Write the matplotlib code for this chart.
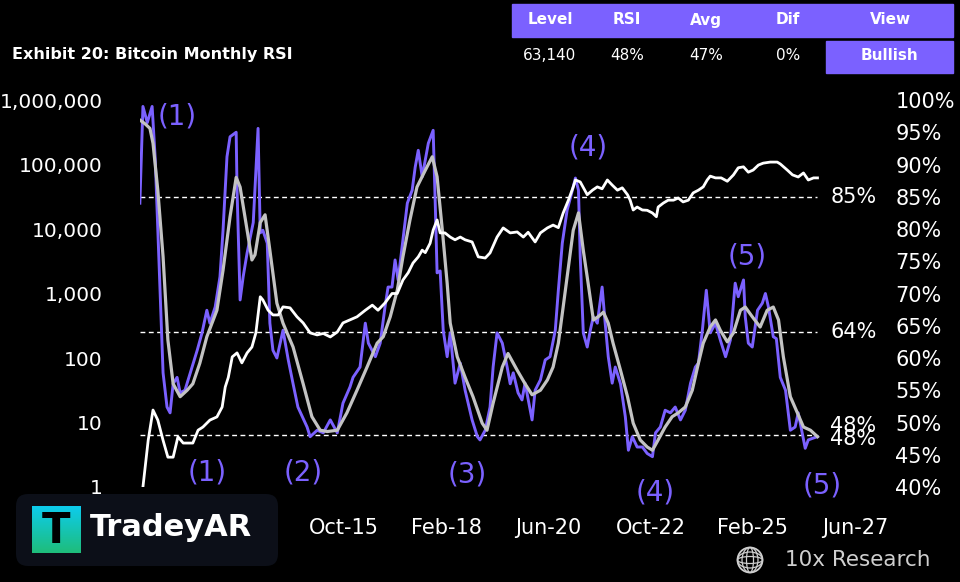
import numpy as np
import matplotlib.pyplot as plt
from matplotlib.patches import Rectangle, FancyBboxPatch, Circle, Ellipse

# x values are decimal years
rsi_t = [2011.08, 2011.15, 2011.25, 2011.36, 2011.43, 2011.54, 2011.61, 2011.70, 2011.77, 2011.84,
         2011.93, 2012.00, 2012.11, 2012.39, 2012.50, 2012.61, 2012.68, 2012.80, 2012.91, 2012.98,
         2013.07, 2013.14, 2013.28, 2013.30, 2013.37, 2013.44, 2013.53, 2013.67, 2013.78, 2013.83,
         2013.89, 2013.99, 2014.05, 2014.12, 2014.21, 2014.35, 2014.47, 2014.58, 2014.69, 2014.90,
         2014.97, 2015.13, 2015.27, 2015.43, 2015.59, 2015.72, 2015.88, 2015.95, 2016.11, 2016.23,
         2016.30, 2016.46, 2016.57, 2016.68, 2016.75, 2016.84, 2016.91, 2016.98, 2017.09, 2017.19,
         2017.30, 2017.37, 2017.44, 2017.53, 2017.67, 2017.78, 2017.83, 2017.87, 2017.94, 2018.01,
         2018.10, 2018.17, 2018.28, 2018.40, 2018.51, 2018.67, 2018.79, 2018.85, 2018.97, 2019.08,
         2019.15, 2019.24, 2019.36, 2019.47, 2019.54, 2019.61, 2019.72, 2019.81, 2019.88, 2020.04,
         2020.11, 2020.23, 2020.34, 2020.45, 2020.57, 2020.64, 2020.73, 2020.84, 2020.96, 2021.03,
         2021.10, 2021.14, 2021.21, 2021.30, 2021.37, 2021.44, 2021.53, 2021.64, 2021.71, 2021.78,
         2021.87, 2021.94, 2022.06, 2022.17, 2022.24, 2022.33, 2022.44, 2022.56, 2022.67, 2022.79,
         2022.86, 2022.97, 2023.08, 2023.20, 2023.31, 2023.43, 2023.54, 2023.66, 2023.77, 2023.84,
         2023.93, 2024.02, 2024.11, 2024.23, 2024.34, 2024.46, 2024.57, 2024.68, 2024.75, 2024.87,
         2024.91, 2024.98, 2025.07, 2025.19, 2025.30, 2025.37, 2025.44, 2025.55, 2025.62, 2025.71,
         2025.83, 2025.94, 2026.05, 2026.12, 2026.21, 2026.28, 2026.35, 2026.47, 2026.56]
rsi = [84.0, 99.0, 96.5, 99.0, 91.0, 70.5, 57.7, 52.4, 51.5, 56.0,
       57.0, 54.6, 55.0, 61.2, 63.9, 67.4, 65.4, 67.9, 72.6, 79.8,
       91.2, 94.3, 95.0, 86.0, 69.0, 72.6, 76.3, 81.0, 95.6, 79.4,
       79.8, 77.8, 65.4, 61.2, 60.0, 64.3, 59.7, 56.0, 52.4, 49.3,
       47.8, 48.8, 48.4, 50.4, 48.4, 53.0, 55.5, 57.0, 58.6, 65.4,
       62.3, 60.2, 62.3, 67.9, 71.0, 71.0, 75.2, 72.1, 78.3, 84.0,
       86.0, 89.6, 92.2, 88.1, 93.3, 95.3, 83.4, 73.2, 73.5, 64.3,
       60.2, 63.9, 56.1, 59.2, 55.0, 50.4, 47.8, 47.3, 48.8, 52.4,
       58.6, 63.9, 62.3, 58.6, 56.0, 57.7, 54.6, 53.5, 56.1, 50.4,
       55.0, 56.6, 59.7, 60.2, 64.3, 70.5, 77.8, 82.9, 86.0, 87.9,
       86.0, 75.7, 63.9, 61.7, 64.3, 66.4, 65.4, 71.0, 65.4, 60.2,
       56.1, 58.6, 56.0, 50.9, 45.7, 47.8, 46.2, 46.2, 45.2, 44.7,
       48.4, 49.3, 51.9, 51.5, 52.4, 50.4, 51.9, 56.1, 58.6, 59.2,
       64.3, 70.5, 63.9, 65.4, 62.8, 60.2, 62.8, 71.6, 69.5, 72.1,
       66.4, 62.3, 61.7, 67.4, 68.5, 70.0, 67.9, 63.3, 63.0, 57.0,
       55.0, 48.8, 49.3, 51.5, 48.4, 46.0, 47.3, 47.6, 47.8]

avg_t = [2011.08, 2011.20, 2011.31, 2011.38, 2011.49, 2011.61, 2011.72, 2011.84, 2012.00, 2012.16,
         2012.29, 2012.45, 2012.61, 2012.84, 2012.98, 2013.14, 2013.28, 2013.37, 2013.48, 2013.64,
         2013.71, 2013.83, 2013.94, 2014.05, 2014.21, 2014.35, 2014.58, 2014.81, 2015.01, 2015.20,
         2015.36, 2015.59, 2015.81, 2016.04, 2016.27, 2016.50, 2016.64, 2016.80, 2016.96, 2017.09,
         2017.25, 2017.41, 2017.60, 2017.76, 2017.87, 2017.99, 2018.10, 2018.17, 2018.33, 2018.51,
         2018.69, 2018.90, 2019.01, 2019.15, 2019.36, 2019.49, 2019.70, 2019.88, 2020.04, 2020.23,
         2020.39, 2020.52, 2020.64, 2020.75, 2020.87, 2020.98, 2021.10, 2021.21, 2021.32, 2021.44,
         2021.55, 2021.67, 2021.78, 2021.89, 2022.06, 2022.22, 2022.35, 2022.51, 2022.67, 2022.79,
         2022.92, 2023.08, 2023.24, 2023.38, 2023.54, 2023.70, 2023.84, 2023.95, 2024.11, 2024.23,
         2024.34, 2024.50, 2024.64, 2024.80, 2024.91, 2025.07, 2025.25, 2025.41, 2025.55, 2025.67,
         2025.78, 2025.94, 2026.10, 2026.24, 2026.40, 2026.56]
avg = [96.9, 96.3, 95.6, 93.3, 86.0, 75.7, 62.8, 56.0, 54.0, 55.0,
       56.0, 59.2, 63.3, 67.4, 73.6, 81.9, 88.0, 86.5, 81.9, 75.2,
       76.0, 81.0, 82.2, 76.7, 68.5, 65.4, 61.7, 56.0, 50.9, 48.8,
       48.6, 48.8, 51.5, 55.0, 58.6, 62.3, 63.3, 66.4, 70.5, 75.7,
       81.4, 86.5, 89.1, 91.2, 88.1, 79.8, 71.6, 65.4, 60.2, 57.0,
       54.0, 49.9, 48.8, 53.0, 58.6, 60.7, 58.1, 56.0, 54.3, 55.0,
       56.6, 58.6, 62.3, 67.9, 74.1, 79.8, 82.5, 76.7, 71.6, 65.9,
       66.4, 67.1, 65.4, 62.3, 58.1, 54.0, 49.9, 47.3, 46.2, 45.7,
       47.3, 49.3, 50.9, 51.5, 52.4, 55.0, 59.2, 62.3, 64.8, 65.9,
       64.3, 62.5, 63.9, 67.4, 67.9, 66.4, 64.8, 67.4, 67.9, 65.9,
       60.2, 54.0, 51.5, 49.3, 48.8, 47.8]

px_t = [2011.15, 2011.27, 2011.38, 2011.49, 2011.61, 2011.72, 2011.84, 2011.95, 2012.07, 2012.29,
        2012.41, 2012.52, 2012.68, 2012.84, 2012.96, 2013.03, 2013.10, 2013.19, 2013.30, 2013.41,
        2013.53, 2013.64, 2013.73, 2013.83, 2013.89, 2014.01, 2014.12, 2014.24, 2014.35, 2014.51,
        2014.67, 2014.81, 2014.97, 2015.13, 2015.27, 2015.43, 2015.59, 2015.72, 2015.88, 2016.04,
        2016.23, 2016.39, 2016.52, 2016.68, 2016.84, 2016.96, 2017.09, 2017.21, 2017.32, 2017.44,
        2017.53, 2017.60, 2017.71, 2017.78, 2017.87, 2017.94, 2018.05, 2018.17, 2018.28, 2018.40,
        2018.51, 2018.67, 2018.81, 2018.97, 2019.08, 2019.24, 2019.38, 2019.54, 2019.70, 2019.84,
        2019.95, 2020.11, 2020.23, 2020.39, 2020.52, 2020.64, 2020.75, 2020.87, 2020.98, 2021.03,
        2021.14, 2021.30, 2021.42, 2021.53, 2021.64, 2021.76, 2021.87, 2021.99, 2022.10, 2022.22,
        2022.28, 2022.35, 2022.44, 2022.56, 2022.67, 2022.79, 2022.88, 2022.92, 2023.04, 2023.15,
        2023.27, 2023.38, 2023.49, 2023.61, 2023.72, 2023.84, 2023.95, 2024.04, 2024.11, 2024.23,
        2024.36, 2024.50, 2024.64, 2024.75, 2024.87, 2024.98, 2025.09, 2025.21, 2025.32, 2025.48,
        2025.64, 2025.71, 2025.87, 2025.99, 2026.12, 2026.24, 2026.35, 2026.47, 2026.56]
px = [1.0, 5.3, 15.6, 10.9, 5.3, 2.9, 2.9, 6.0, 4.8, 4.8,
      7.6, 8.5, 10.9, 12.2, 17.4, 35.5, 50, 104, 120, 84,
      120, 148, 245, 890, 795, 550, 465, 465, 620, 600,
      435, 350, 245, 228, 240, 212, 253, 350, 390, 435,
      550, 660, 550, 715, 1000, 1000, 1620, 2100, 2970, 3700,
      4700, 4300, 6000, 9600, 13800, 8700, 8700, 7500, 6800, 7500,
      6800, 6300, 3700, 3550, 4260, 7500, 10400, 8700, 9000, 7500,
      8900, 6300, 8700, 10400, 11500, 10500, 17700, 28000, 45000, 57500,
      53700, 34000, 40000, 45000, 42000, 57500, 48000, 40000, 43500, 34000,
      28000, 19700, 21900, 19700, 19500, 17700, 15500, 21900, 25300, 28000,
      28000, 30200, 26300, 28000, 36300, 40000, 45000, 57500, 66000, 62000,
      62000, 55000, 69000, 89000, 92000, 76000, 82000, 98000, 105000, 109000,
      109000, 102000, 82000, 69000, 64000, 74000, 57500, 62000, 62000]

levels = [85, 64, 48]
level_span = [2011.08, 2026.56]
end_labels = [('85%', 85.0), ('64%', 64.0), ('48%', 49.4), ('48%', 47.4)]

tick_t = [2011.083, 2013.417, 2015.75, 2018.083, 2020.417, 2022.75, 2025.083, 2027.417]
tick_lab = ['Feb-11', 'Jun-13', 'Oct-15', 'Feb-18', 'Jun-20', 'Oct-22', 'Feb-25', 'Jun-27']
price_ticks = [1, 10, 100, 1000, 10000, 100000, 1000000]
pct_ticks = list(range(40, 101, 5))

notes = [('(1)', 2011.93, 97.5), ('(1)', 2012.61, 42.3), ('(2)', 2014.81, 42.3),
         ('(3)', 2018.56, 41.9), ('(4)', 2021.32, 92.7), ('(4)', 2022.86, 39.1),
         ('(5)', 2024.96, 75.7), ('(5)', 2026.67, 40.3)]

header = ['Level', 'RSI', 'Avg', 'Dif', 'View']
values = ['63,140', '48%', '47%', '0%', 'Bullish']
col_x = [550, 627, 706, 788, 890]

purple = '#7b61ff'
grey = '#c3c3c3'
fs = 15

fig = plt.figure(figsize=(9.6, 5.82), dpi=100, facecolor='black')
ax = fig.add_axes([140 / 960, 1 - 487 / 582, 715 / 960, 387 / 582])
ax2 = ax.twinx()
ax.set_zorder(ax2.get_zorder() + 1)
ax.patch.set_visible(False)
ax2.set_facecolor('black')

ax2.plot(rsi_t, rsi, color=purple, lw=2.1, zorder=2)
ax2.plot(avg_t, avg, color=grey, lw=2.3, zorder=3)
for lv in levels:
    ax2.plot(level_span, [lv, lv], color='white', lw=1.0, dashes=(3.5, 2.5), zorder=1)
for lab, y in end_labels:
    ax2.text(2026.85, y, lab, color='white', fontsize=fs, va='center', ha='left')
for lab, x, y in notes:
    ax2.text(x, y, lab, color=purple, fontsize=20, ha='center', va='center', clip_on=False)

ax.plot(px_t, px, color='white', lw=2.0)
ax.set_yscale('log')
ax.set_ylim(1, 1e6)
ax.set_yticks(price_ticks)
ax.set_yticklabels(['{:,}'.format(v) for v in price_ticks])
ax.yaxis.set_minor_locator(plt.NullLocator())
ax2.set_ylim(40, 100)
ax2.set_yticks(pct_ticks)
ax2.set_yticklabels(['{}%'.format(v) for v in pct_ticks])
ax.set_xlim(2011.083, 2027.417)
ax.set_xticks(tick_t)
ax.set_xticklabels(tick_lab)

for a in (ax, ax2):
    for s in a.spines.values():
        s.set_visible(False)
    a.tick_params(colors='white', labelsize=fs, length=0)
ax.tick_params(axis='y', pad=27, labelsize=14.5)
ax.tick_params(axis='x', pad=22)
ax2.tick_params(axis='y', pad=29)

# overlay in pixel coordinates for header, logos
ov = fig.add_axes([0, 0, 1, 1], zorder=10)
ov.set_xlim(0, 960)
ov.set_ylim(582, 0)
ov.axis('off')
ov.patch.set_visible(False)

ov.text(12, 55, 'Exhibit 20: Bitcoin Monthly RSI', color='white', fontsize=11.5,
        fontweight='bold', va='center', ha='left')
ov.add_patch(Rectangle((512, 4), 441, 33, color=purple))
ov.add_patch(Rectangle((826, 41), 127, 32, color=purple))
for h, v, x in zip(header, values, col_x):
    ov.text(x, 20, h, color='white', fontsize=11, fontweight='bold', ha='center', va='center')
    ov.text(x, 56, v, color='white', fontsize=11,
            fontweight='bold' if v == 'Bullish' else 'normal', ha='center', va='center')

ov.add_patch(FancyBboxPatch((16, 494), 262, 72, boxstyle='round,pad=0,rounding_size=12',
                            facecolor='#0c0f18', edgecolor='none'))
ov.text(90, 528, 'TradeyAR', color='white', fontsize=22, fontweight='bold', ha='left', va='center')

ic = fig.add_axes([32 / 960, 1 - 553 / 582, 48 / 960, 47 / 582], zorder=11)
grad = np.linspace(0, 1, 64)[:, None]
c1 = np.array([0.05, 0.80, 0.93])
c2 = np.array([0.12, 0.74, 0.48])
img = c1[None, None, :] * (1 - grad[..., None]) + c2[None, None, :] * grad[..., None]
ic.imshow(np.repeat(img, 4, axis=1), aspect='auto', extent=(0, 1, 0, 1))
ic.text(0.5, 0.47, 'T', color='black', fontsize=30, fontweight='bold', ha='center', va='center')
ic.axis('off')

gc = '#cfcfcf'
ov.add_patch(Circle((750, 560), 12.5, fill=False, edgecolor=gc, lw=1.3))
for w in (7, 16):
    ov.add_patch(Ellipse((750, 560), w, 25, fill=False, edgecolor=gc, lw=0.9))
    ov.add_patch(Ellipse((750, 560), 25, w, fill=False, edgecolor=gc, lw=0.9))
ov.text(785, 560, '10x Research', color=gc, fontsize=15.5, ha='left', va='center')

fig.savefig('out.png', dpi=100, facecolor='black')
